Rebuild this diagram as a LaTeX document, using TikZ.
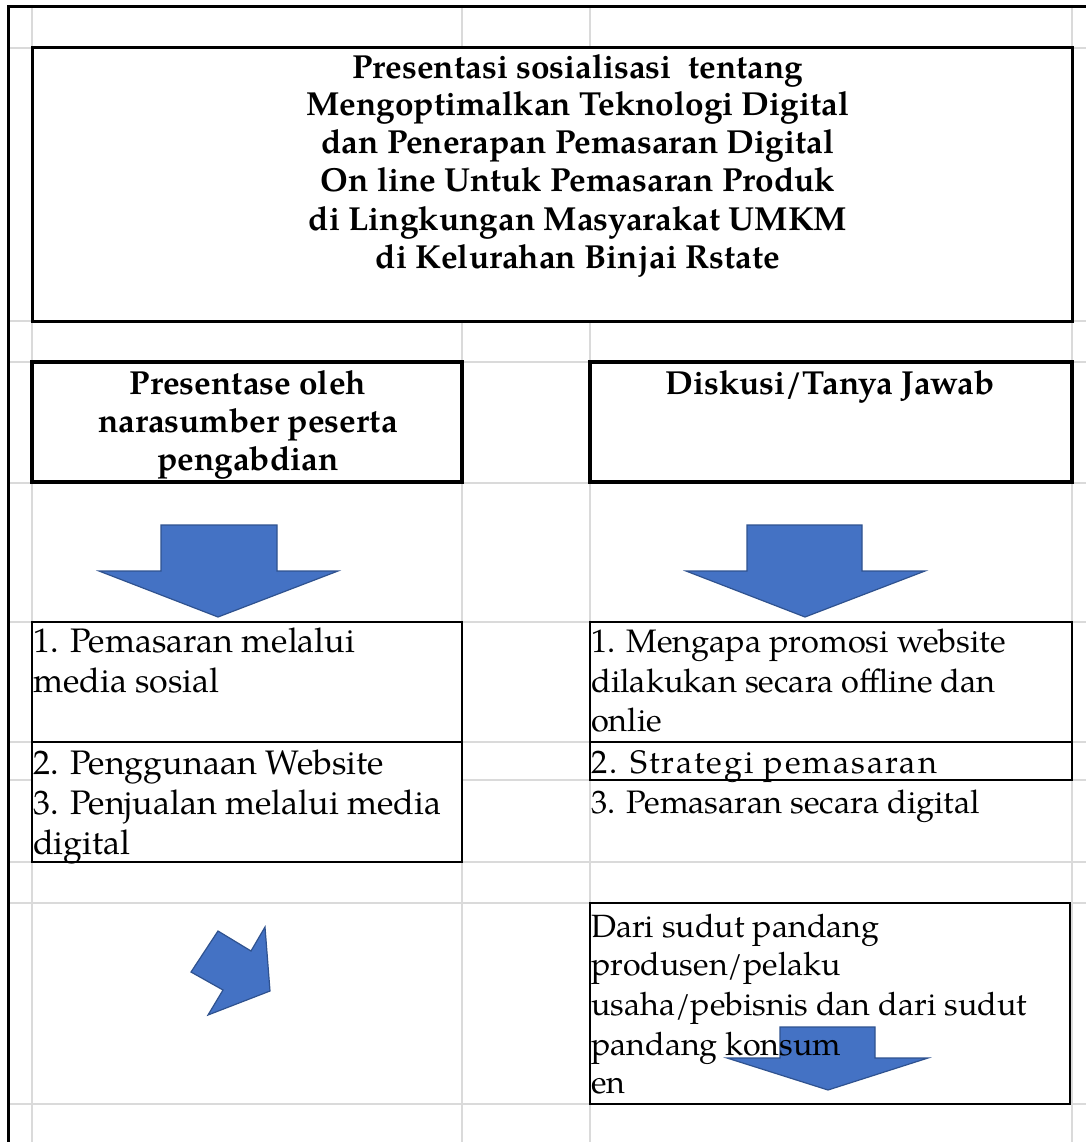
\documentclass[tikz,border=0pt]{standalone}
\usepackage{fontspec}
\setmainfont{TeX Gyre Pagella}
\definecolor{gridgray}{HTML}{DADADA}
\definecolor{arrowfill}{HTML}{4472C4}
\definecolor{arrowline}{HTML}{2F528F}
\tikzset{
  gridline/.style={draw=gridgray, line width=1.5},
  boxframe/.style={draw=black, fill=white, inner sep=0, outer sep=0, anchor=north west},
  blockarrow/.style={fill=arrowfill, draw=arrowline, line width=1.2, line join=miter},
  titletxt/.style={anchor=base, inner sep=0, font=\fontsize{33.3}{38}\selectfont\bfseries},
  lefttxt/.style={anchor=base west, inner sep=0, font=\fontsize{34}{40}\selectfont},
  righttxt/.style={anchor=base west, inner sep=0, font=\fontsize{32.5}{40}\selectfont},
  daritxt/.style={anchor=base west, inner sep=0, font=\fontsize{32.2}{40}\selectfont},
}
\begin{document}
\begin{tikzpicture}[x=1pt,y=-1pt]
\useasboundingbox[fill=white] (0,0) rectangle (1086,1142);
% spreadsheet grid
\foreach \gx in {32,462,590,1072} {\draw[gridline] (\gx,7) -- (\gx,1142);}
\foreach \gy in {48,321,362,483,622,742,780,862,903,1104} {\draw[gridline] (8,\gy) -- (1086,\gy);}
% outer black frame
\draw[line width=3] (8,1142) -- (8,7) -- (1086,7);
% title box
\node[boxframe, line width=3, minimum width=1040, minimum height=273] (titlebox) at (32,48) {};
\node[titletxt] (t1) at (578,79) {Presentasi sosialisasi\ \ tentang};
\node[titletxt] (t2) at (578,116) {Mengoptimalkan Teknologi Digital};
\node[titletxt] (t3) at (578,154) {dan Penerapan Pemasaran Digital};
\node[titletxt] (t4) at (578,192) {On line Untuk Pemasaran Produk};
\node[titletxt] (t5) at (578,230) {di Lingkungan Masyarakat UMKM};
\node[titletxt] (t6) at (578,268) {di Kelurahan Binjai Rstate};
% header boxes
\node[boxframe, line width=4, minimum width=430, minimum height=120] (hleft) at (32,362) {};
\node[titletxt] (h1) at (248,394) {Presentase oleh};
\node[titletxt] (h2) at (248,432) {narasumber peserta};
\node[titletxt] (h3) at (248,470) {pengabdian};
\node[boxframe, line width=4, minimum width=482, minimum height=120] (hright) at (590,362) {};
\node[titletxt] (h4) at (830,394) {Diskusi/Tanya Jawab};
% down arrows
\draw[blockarrow] (161,525) -- (277,525) -- (277,571) -- (338,571) -- (218,617) -- (99,571) -- (161,571) -- cycle;
\draw[blockarrow] (747,525) -- (862,525) -- (862,571) -- (925,571) -- (805,617) -- (686,571) -- (747,571) -- cycle;
% left list box
\node[boxframe, line width=2, minimum width=430, minimum height=240] (lbox) at (32,622) {};
\draw[line width=2] (lbox.west |- 0,742) -- (lbox.east |- 0,742);
\node[lefttxt] (l1) at (33,652) {1. Pemasaran melalui};
\node[lefttxt] (l2) at (33,692) {media sosial};
\node[lefttxt] (l3) at (33,774) {2. Penggunaan Website};
\node[lefttxt] (l4) at (33,814) {3. Penjualan melalui media};
\node[lefttxt] (l5) at (33,854) {digital};
% right list box
\node[boxframe, line width=2.5, minimum width=482, minimum height=158] (rbox) at (590,622) {};
\draw[line width=2.5] (rbox.west |- 0,742) -- (rbox.east |- 0,742);
\node[righttxt] (r1) at (591,652) {1. Mengapa promosi website};
\node[righttxt] (r2) at (591,692) {dilakukan secara offline dan};
\node[righttxt] (r3) at (591,731) {onlie};
\node[righttxt] (r4) at (591,773) {\addfontfeature{LetterSpace=6}2. Strategi pemasaran};
\node[righttxt] (r5) at (591,813) {3. Pemasaran secara digital};
% diagonal arrow
\draw[blockarrow] (191,972) -- (218,931) -- (251,951) -- (265,927) -- (270,991) -- (208,1015) -- (223,990) -- cycle;
% bottom right box
\node[boxframe, line width=2.5, minimum width=480, minimum height=201] (dbox) at (590,903) {};
\draw[blockarrow] (780,1027) -- (875,1027) -- (875,1058) -- (928,1058) -- (828,1090) -- (727,1058) -- (780,1058) -- cycle;
\node[daritxt] (d1) at (591,937) {Dari sudut pandang};
\node[daritxt] (d2) at (591,975) {produsen/pelaku};
\node[daritxt] (d3) at (591,1015) {usaha/pebisnis dan dari sudut};
\node[daritxt] (d4) at (591,1055) {pandang konsum};
\node[daritxt] (d5) at (591,1093) {en};
\end{tikzpicture}
\end{document}
